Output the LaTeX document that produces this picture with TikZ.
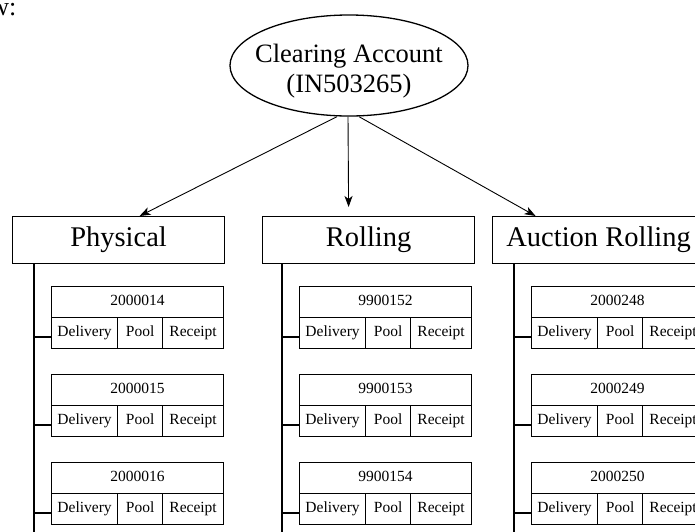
\documentclass[tikz,border=0pt]{standalone}
\usepackage{fontspec}
\setmainfont{Liberation Serif}
\usetikzlibrary{shapes.geometric,arrows.meta,calc}

\tikzset{
  rootnode/.style={draw, ellipse, line width=1.3pt, minimum width=238pt,
    minimum height=101pt, inner sep=0pt},
  rootlabel/.style={inner sep=0pt, align=center,
    font=\fontsize{26.5}{30}\selectfont},
  groupbox/.style={draw, rectangle, line width=1.2pt, minimum width=212pt,
    minimum height=47pt, inner sep=0pt, anchor=north west,
    font=\fontsize{28.5}{30}\selectfont},
  cell/.style={draw, rectangle, line width=1.2pt, minimum height=31pt,
    inner sep=0pt, anchor=north west, text height=11pt, text depth=3.5pt,
    font=\fontsize{15.5}{17}\selectfont},
  link/.style={line width=0.9pt, -{Stealth[length=11pt,width=8pt,inset=3pt]}},
  trunk/.style={line width=1.2pt},
}

% one account table: name, left x, top y, account number, trunk coordinate
\newcommand\acctbox[5]{%
  \node[cell, minimum width=172pt] (#1h) at (#2,#3) {#4};
  \node[cell, minimum width=66pt] (#1d) at (#2,#3+31) {Delivery};
  \node[cell, minimum width=45pt] (#1p) at (#2+66,#3+31) {Pool};
  \node[cell, minimum width=61pt] (#1r) at (#2+111,#3+31) {Receipt};
  \coordinate (#1t) at (#2,#3+51);
  \draw[trunk] (#1t -| #5) -- (#1t);
}

\begin{document}
\begin{tikzpicture}[x=1pt,y=-1pt]
  \useasboundingbox (0,0) rectangle (695,531);
  \clip (0,0) rectangle (695,531);

  % tail of the sentence above the chart
  \node[anchor=base east, inner sep=0pt, font=\fontsize{26}{30}\selectfont] (lead) at (16.5,15) {below:};

  % clearing account
  \node[rootnode] (root) at (349,65.5) {};
  \node[rootlabel] (rootText) at (349,71.5) {Clearing Account\\(IN503265)};

  % account groups
  \node[groupbox] (phys) at (12,216) {Physical};
  \node[groupbox] (roll) at (262,216) {Rolling};
  \node[groupbox] (auct) at (492,216) {Auction Rolling};

  \draw[link] ([xshift=-12pt]root.south) -- ([xshift=21pt]phys.north);
  \draw[link] ([xshift=-1pt]root.south) -- ([xshift=-20pt,yshift=9pt]roll.north);
  \draw[link] ([xshift=10pt]root.south) -- ([xshift=-63pt]auct.north);

  % trunks down each group
  \coordinate (physB) at (34,540);
  \coordinate (rollB) at (282,540);
  \coordinate (auctB) at (514,540);
  \draw[trunk] (physB |- phys.south) -- (physB);
  \draw[trunk] (rollB |- roll.south) -- (rollB);
  \draw[trunk] (auctB |- auct.south) -- (auctB);

  % sub-accounts
  \acctbox{pa}{51}{286}{2000014}{physB}
  \acctbox{pb}{51}{374}{2000015}{physB}
  \acctbox{pc}{51}{462}{2000016}{physB}

  \acctbox{ra}{299}{286}{9900152}{rollB}
  \acctbox{rb}{299}{374}{9900153}{rollB}
  \acctbox{rc}{299}{462}{9900154}{rollB}

  \acctbox{aa}{531}{286}{2000248}{auctB}
  \acctbox{ab}{531}{374}{2000249}{auctB}
  \acctbox{ac}{531}{462}{2000250}{auctB}
\end{tikzpicture}
\end{document}
